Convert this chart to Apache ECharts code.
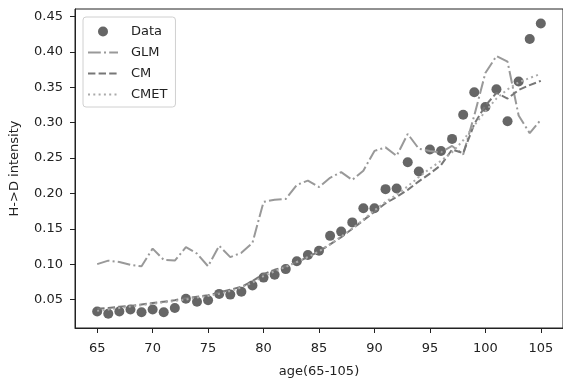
<!DOCTYPE html>
<html>
<head>
<meta charset="utf-8">
<script src="https://cdn.jsdelivr.net/npm/echarts@6/dist/echarts.min.js"></script>
<style>
html,body{margin:0;padding:0;background:#fff;}
#c{width:563px;height:383px;}
</style>
</head>
<body>
<div id="c"></div>
<script>
const ages = [65,66,67,68,69,70,71,72,73,74,75,76,77,78,79,80,81,82,83,84,85,86,87,88,89,90,91,92,93,94,95,96,97,98,99,100,101,102,103,104,105];
const dataVals = [0.033,0.030,0.033,0.036,0.032,0.036,0.032,0.038,0.051,0.047,0.049,0.058,0.057,0.061,0.070,0.081,0.085,0.093,0.104,0.113,0.119,0.140,0.146,0.159,0.179,0.179,0.206,0.207,0.244,0.231,0.262,0.260,0.277,0.311,0.343,0.322,0.347,0.302,0.358,0.418,0.440];
const glmVals = [0.100,0.105,0.103,0.099,0.097,0.122,0.106,0.105,0.124,0.115,0.097,0.126,0.110,0.116,0.130,0.188,0.191,0.192,0.212,0.218,0.209,0.222,0.230,0.219,0.232,0.260,0.265,0.253,0.284,0.263,0.260,0.258,0.267,0.255,0.310,0.370,0.394,0.386,0.310,0.285,0.304];
const cmVals = [0.037,0.038,0.040,0.041,0.043,0.045,0.047,0.049,0.052,0.054,0.056,0.060,0.064,0.068,0.076,0.086,0.092,0.097,0.103,0.110,0.118,0.128,0.138,0.150,0.162,0.174,0.186,0.195,0.205,0.217,0.228,0.240,0.262,0.257,0.298,0.324,0.342,0.334,0.346,0.353,0.359];
const cmetVals = [0.034,0.036,0.038,0.040,0.042,0.044,0.046,0.048,0.050,0.053,0.055,0.058,0.062,0.067,0.074,0.083,0.090,0.096,0.103,0.110,0.118,0.128,0.139,0.150,0.163,0.176,0.188,0.198,0.210,0.223,0.235,0.246,0.258,0.275,0.296,0.316,0.334,0.347,0.357,0.363,0.369];
const xTicks = [65,70,75,80,85,90,95,100,105];
const yTicks = [0.05,0.10,0.15,0.20,0.25,0.30,0.35,0.40,0.45];
const seriesNames = ['Data','GLM','CM','CMET'];

const pair = vals => ages.map((a,i)=>[a, vals[i]]);
const font = 'DejaVu Sans';
const chart = echarts.init(document.getElementById('c'), null, {renderer:'canvas'});
chart.setOption({
  animation:false,
  backgroundColor:'#fff',
  textStyle:{fontFamily:font},
  grid:{left:75, right:-3, top:9, bottom:54, show:true, borderColor:'#222', borderWidth:1, backgroundColor:'transparent'},
  legend:{
    orient:'vertical', left:83, top:17,
    data:seriesNames.map((n,i)=> i===0 ? {name:n} : {name:n, itemStyle:{opacity:0}}),
    itemWidth:30, itemHeight:10, itemGap:8,
    backgroundColor:'rgba(255,255,255,0.8)', borderColor:'#d0d0d0', borderWidth:1, borderRadius:3,
    padding:[8,8,6,4],
    textStyle:{fontFamily:font, fontSize:13, color:'#222', padding:[0,0,0,8]}
  },
  xAxis:{
    type:'value', min:63, max:107,
    name:'age(65-105)', nameLocation:'middle', nameGap:37,
    nameTextStyle:{fontFamily:font, fontSize:13, color:'#222'},
    axisLine:{show:true, lineStyle:{color:'#222', width:1}},
    axisTick:{show:true, length:5, lineStyle:{color:'#222'}, customValues:xTicks},
    axisLabel:{fontFamily:font, fontSize:13, color:'#222', margin:14, customValues:xTicks},
    splitLine:{show:false}
  },
  yAxis:{
    type:'value', min:0.0098, max:0.4605,
    name:'H->D intensity', nameLocation:'middle', nameGap:54, nameRotate:90,
    nameTextStyle:{fontFamily:font, fontSize:13, color:'#222'},
    axisLine:{show:true, lineStyle:{color:'#222', width:1}},
    axisTick:{show:true, length:5, lineStyle:{color:'#222'}, customValues:yTicks},
    axisLabel:{fontFamily:font, fontSize:13, color:'#222', margin:12, customValues:yTicks, formatter:v=>v.toFixed(2)},
    splitLine:{show:false}
  },
  series:[
    {name:'Data', type:'scatter', data:pair(dataVals), symbol:'circle', symbolSize:10, itemStyle:{color:'#666666', opacity:1}, z:2},
    {name:'GLM', type:'line', data:pair(glmVals), showSymbol:false, symbol:'none', lineStyle:{color:'#999999', width:2, type:[12.8,3.2,2,3.2]}, itemStyle:{color:'#999999'}, z:3},
    {name:'CM', type:'line', data:pair(cmVals), showSymbol:false, symbol:'none', lineStyle:{color:'#777777', width:2, type:[7.4,3.2]}, itemStyle:{color:'#777777'}, z:3},
    {name:'CMET', type:'line', data:pair(cmetVals), showSymbol:false, symbol:'none', lineStyle:{color:'#aaaaaa', width:2, type:[2,3.3]}, itemStyle:{color:'#aaaaaa'}, z:3}
  ]
});
</script>
</body>
</html>
